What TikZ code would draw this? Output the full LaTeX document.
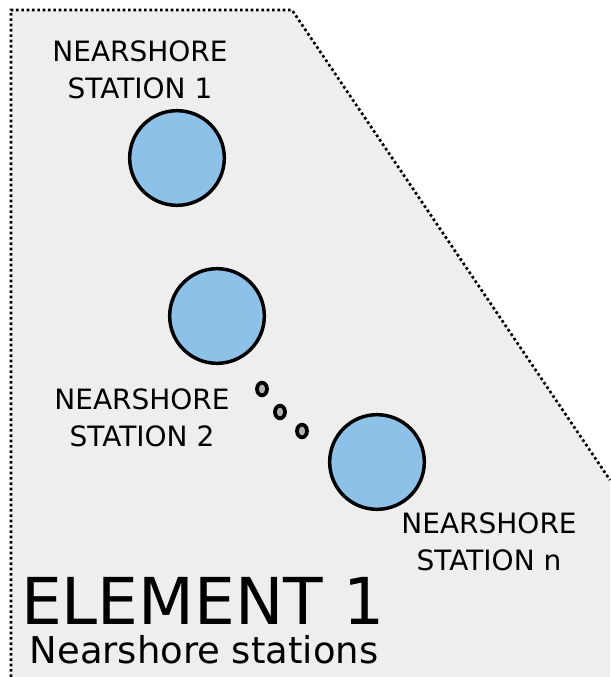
\documentclass[tikz,border=0pt]{standalone}
\usepackage{fontspec}
\setmainfont{DejaVu Sans}
\usetikzlibrary{shapes.geometric}
\definecolor{areagray}{HTML}{EEEEEE}
\definecolor{stationblue}{HTML}{8EC1E8}
\tikzset{
  station/.style={circle, draw=black, line width=2.6pt, fill=stationblue, minimum size=71pt, inner sep=0pt},
  gap/.style={ellipse, draw=black, line width=2.8pt, fill=gray!60, minimum width=7.5pt, minimum height=9.5pt, inner sep=0pt},
  label/.style={align=center, font=\fontsize{21}{27.75}\selectfont}
}
\begin{document}
\begin{tikzpicture}[x=0.75pt, y=-0.75pt]
    \useasboundingbox (0,0) rectangle (610,677);
    \fill[areagray] (11,10) -- (292,10) -- (610,480) -- (610,677) -- (11,677) -- cycle;
    \draw[line width=2pt, dotted] (11,677) -- (11,10) -- (292,10) -- (610,480);

    \node[station] (s1) at (177,158) {};
    \node[station] (s2) at (217,316) {};
    \node[station] (sn) at (377,462) {};

    \node[gap] (g1) at (262,389) {};
    \node[gap] (g2) at (280,412) {};
    \node[gap] (g3) at (302,431) {};

    \node[label] (l1) at (140,70) {NEARSHORE\\STATION 1};
    \node[label] (l2) at (142,418) {NEARSHORE\\STATION 2};
    \node[label] (ln) at (489,542) {NEARSHORE\\STATION n};

    \node[inner sep=0pt, font=\fontsize{48.5}{48.5}\selectfont] (title) at (203,601) {ELEMENT 1};
    \node[inner sep=0pt, font=\fontsize{27.7}{27.7}\selectfont] (sub) at (204,650) {Nearshore stations};
\end{tikzpicture}
\end{document}
